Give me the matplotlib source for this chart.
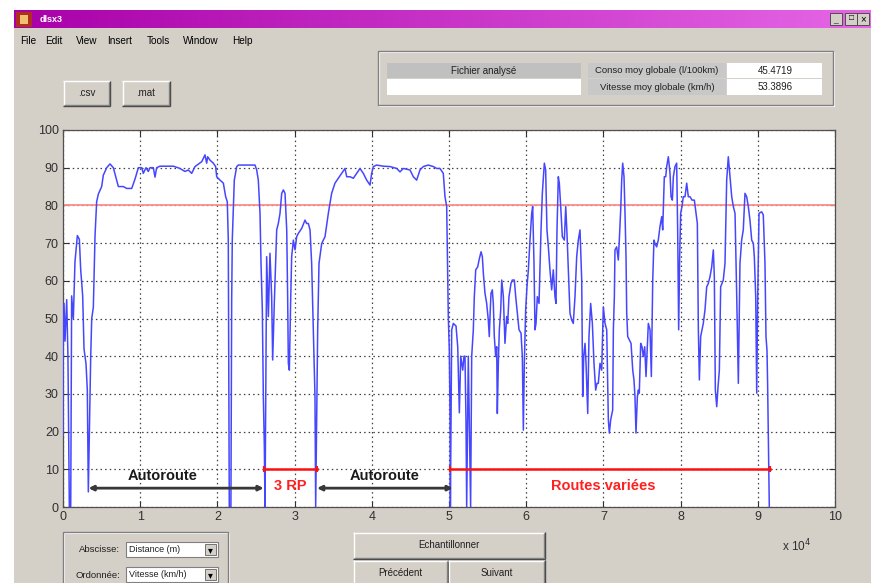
import matplotlib
matplotlib.use("Agg")
import numpy as np
import matplotlib.pyplot as plt
from matplotlib.patches import Rectangle
from matplotlib.lines import Line2D

plt.rcParams['font.family'] = ['Liberation Sans', 'DejaVu Sans']

# Speed recorded along the trip: distance (m) and speed (km/h)
distance_m = [
    0, 30, 130, 260, 480, 640, 820, 1000, 1120, 1340, 1550, 1860, 2120, 2290,
    2550, 2720, 2980, 3150, 3280, 3590, 3720, 3930, 4150, 4360, 4580, 5010,
    5220, 5660, 6090, 6520, 7170, 7810, 8250, 8900, 9330, 9760, 10190, 10400,
    10750, 11050, 11270, 11700, 11920, 12130, 12560, 14300, 15150, 15800,
    16230, 16670, 17100, 17970, 18390, 18610, 18740, 19040, 19470, 19770,
    19910, 20340, 20770, 21070, 21280, 21410, 21540, 21750, 21850, 21930,
    22190, 22500, 22710, 24870, 25090, 25300, 25520, 25650, 25820, 25950,
    26080, 26170, 26380, 26600, 26810, 27030, 27160, 27370, 27680, 27890,
    28110, 28330, 28540, 28760, 28980, 29100, 29190, 29320, 29500, 29620,
    29840, 30050, 30270, 30490, 30920, 31350, 31560, 31780, 32000, 32210,
    32430, 32560, 32640, 32730, 32990, 33160, 33510, 33940, 34370, 34800,
    35230, 35660, 36100, 36530, 36750, 37180, 37610, 38040, 38470, 38900,
    39340, 39770, 39980, 40200, 40630, 41490, 42360, 43220, 43650, 44080,
    44950, 45380, 45810, 46240, 46670, 47320, 47970, 48400, 48830, 49260,
    49480, 49700, 49780, 49910, 50040, 50130, 50180, 50350, 50560, 50910,
    51130, 51340, 51520, 51780, 51940, 52070, 52200, 52290, 52500, 52800,
    52940, 53150, 53280, 53460, 53720, 53890, 54150, 54320, 54450, 54660,
    54880, 55090, 55220, 55310, 55440, 55610, 55740, 55870, 56050, 56180,
    56260, 56390, 56520, 56700, 56830, 57040, 57250, 57470, 57600, 57770,
    58030, 58200, 58460, 58640, 58900, 59070, 59330, 59500, 59630, 59760,
    59930, 60100, 60280, 60490, 60710, 60840, 61010, 61140, 61270, 61440,
    61660, 61920, 62090, 62350, 62520, 62690, 62870, 63080, 63300, 63510,
    63730, 63860, 63990, 64160, 64290, 64470, 64680, 64940, 65120, 65280,
    65460, 65670, 65890, 66100, 66320, 66540, 66750, 66970, 67190, 67320,
    67450, 67620, 67750, 67970, 68130, 68350, 68570, 68780, 69000, 69170,
    69340, 69560, 69780, 69990, 70210, 70430, 70640, 70770, 70940, 71200,
    71290, 71420, 71500, 71720, 71930, 72060, 72240, 72370, 72500, 72670,
    72800, 72930, 73020, 73150, 73360, 73580, 73800, 73960, 74090, 74220,
    74400, 74520, 74650, 74830, 75000, 75170, 75350, 75520, 75690, 75820,
    76040, 76210, 76390, 76550, 76680, 76900, 77110, 77330, 77550, 77680,
    77890, 78070, 78200, 78410, 78630, 78760, 78930, 79060, 79270, 79490,
    79620, 79750, 79880, 80010, 80180, 80350, 80570, 80790, 81000, 81220,
    81480, 81780, 82000, 82170, 82300, 82430, 82600, 82770, 82940, 83160,
    83380, 83590, 83810, 84030, 84240, 84370, 84500, 84680, 84850, 85020,
    85190, 85360, 85530, 85750, 85970, 86180, 86400, 86620, 86830, 87050,
    87270, 87480, 87690, 87910, 88120, 88340, 88560, 88770, 88990, 89210,
    89420, 89550, 89730, 89860, 89990, 90160, 90500, 90710, 90930, 91060,
    91190, 91270, 91360, 91490,
]
speed_kmh = [
    19, 42, 54, 44, 55, 40, 0, 0, 56, 50, 65, 72, 71, 63,
    56, 42, 38, 31, 4, 40, 50, 53, 72, 81, 83, 85,
    88, 90, 91, 90, 85, 85, 84.5, 84.5, 87, 90, 90, 88.5,
    90, 89, 90, 90, 87.5, 90, 90.4, 90.4, 89.8, 89,
    89.4, 88.5, 90.3, 91.6, 93.4, 91.2, 92.9, 92, 91.2, 90.3,
    87.6, 86.7, 85.9, 82.3, 81, 71, 0, 0, 55, 71,
    86.7, 90.3, 90.7, 90.7, 89.4, 86.7, 77.9, 64.6, 52.3, 29.3,
    16, 0, 66.4, 50.5, 67.3, 55.8, 39, 54, 73.5, 75.2,
    77.9, 83.2, 84.1, 83.2, 73.5, 55.8, 38.1, 36.3, 55.8, 66.4,
    70.8, 68.2, 71.7, 72.6, 73.9, 76.1, 75.2, 75.2, 73.5, 64.6,
    47, 35.5, 29.3, 0, 47, 64.6, 69.9, 71.7, 77.9, 83.2,
    85.9, 87.2, 88.5, 89.8, 87.6, 87.6, 87.2, 88.5, 89.8, 88.5,
    86.7, 85.4, 88.5, 90.3, 90.7, 90.4, 90.3, 89.8, 88.9, 89.8,
    89.4, 87.6, 86.7, 89.4, 90.3, 90.7, 90.3, 89.8, 89.8, 88.5,
    82.3, 79.7, 69, 50.5, 41.6, 24.9, 0, 47, 48.7, 48,
    42.5, 25, 40, 36.3, 40, 40, 23, 0, 40, 0,
    40, 47, 55.8, 62.9, 63.7, 65.5, 67.7, 66.4, 62, 56.7,
    54, 49.6, 45.2, 50.5, 56.7, 57.6, 54, 45.2, 39.9, 42.5,
    24.8, 38.1, 47, 52.3, 60.2, 55.8, 43.4, 50.5, 48.7, 55.8,
    59.3, 60.2, 60.2, 55.8, 50.5, 47, 46.1, 39.9, 20.4, 38.1,
    52.3, 58.4, 62.9, 70.8, 77.9, 79.7, 64.6, 47, 48.7, 55.8,
    54, 73.5, 83.2, 91.2, 89.4, 73.5, 69, 62.9, 57.6, 62.9,
    55.8, 54, 73.5, 87.6, 85.9, 79.7, 71.7, 70.8, 79.7, 72.6,
    62.9, 51.4, 49.6, 48.7, 55.8, 66.4, 70.8, 73.5, 60.2, 29.3,
    39.9, 43.4, 38.1, 24.8, 45.2, 54, 48.7, 38.1, 31, 32.8,
    32.8, 38.1, 36.3, 53.1, 48.7, 47, 23.1, 19.6, 23.1, 25.7,
    47, 55.8, 68.2, 69, 65.5, 70.8, 78.8, 86.7, 91.2, 87.6,
    77.9, 66.4, 51.4, 45.2, 44.3, 43.4, 36.3, 33.7, 29.3, 19.6,
    29.3, 31, 30.2, 43.4, 42.5, 39.9, 42.5, 34.6, 42.5, 48.7,
    47, 34.6, 60.2, 70.8, 69.9, 69, 70.8, 74.4, 77, 73.5,
    87.6, 87.6, 90.3, 92.9, 88.5, 82.3, 81.4, 87.6, 90.3, 91.2,
    73.5, 47, 66.4, 77.9, 79.7, 82.3, 82.3, 85.9, 82.3, 82.3,
    81.4, 81.4, 77.9, 75.2, 47, 33.7, 45.2, 47, 48.7, 52.3,
    58.4, 59.3, 61.1, 63.7, 68.2, 61.1, 31, 26.6, 31.9, 36.3,
    58.4, 59.3, 60.2, 64.6, 86.7, 92.9, 87.6, 82.3, 79.7, 77.9,
    55.8, 32.8, 64.6, 70.8, 73.5, 83.2, 82.3, 79.7, 76, 70.8,
    69.9, 66.4, 55.8, 30.2, 55.8, 77.9, 78.3, 77.5, 64.6, 45.2,
    41.6, 32.8, 18.7, 0,
]

speed_limit_kmh = 80
x_tick_values = [0, 1, 2, 3, 4, 5, 6, 7, 8, 9, 10]
y_tick_values = [0, 10, 20, 30, 40, 50, 60, 70, 80, 90, 100]

# Road segments of the trip
segment_names = ['Autoroute', '3 RP', 'Autoroute', 'Routes variées']
segment_start_m = [3300, 26000, 32900, 50100]
segment_end_m = [26000, 32900, 50500, 91600]
segment_is_motorway = [True, False, True, False]

# Summary values shown in the panel
conso_moy = '45.4719'
vitesse_moy = '53.3896'

W, H = 871, 583
BG = '#d4d0c8'

fig = plt.figure(figsize=(W / 100, H / 100), dpi=100, facecolor=BG)


def box(x0, y0, x1, y1, fc, ec='none', lw=0.0, z=1):
    fig.add_artist(Rectangle((x0 / W, 1 - y1 / H), (x1 - x0) / W, (y1 - y0) / H,
                             transform=fig.transFigure, facecolor=fc,
                             edgecolor=ec, linewidth=lw, zorder=z))


def hline(x0, x1, y, color, lw=1.0, z=2):
    fig.add_artist(Line2D([x0 / W, x1 / W], [1 - y / H, 1 - y / H],
                          transform=fig.transFigure, color=color, lw=lw,
                          zorder=z, solid_capstyle='butt'))


def vline(x, y0, y1, color, lw=1.0, z=2):
    fig.add_artist(Line2D([x / W, x / W], [1 - y0 / H, 1 - y1 / H],
                          transform=fig.transFigure, color=color, lw=lw,
                          zorder=z, solid_capstyle='butt'))


def label(x, y, s, size=7.0, ha='center', color='#202020', **kw):
    fig.text(x / W, 1 - y / H, s, ha=ha, va='center', fontsize=size,
             color=color, zorder=5, **kw)


def button(x0, y0, x1, y1, text, size=7.0):
    box(x0, y0, x1, y1, BG)
    hline(x0, x1, y0 + 0.5, 'white')
    vline(x0 + 0.5, y0, y1, 'white')
    hline(x0, x1, y1 - 0.5, '#404040')
    vline(x1 - 0.5, y0, y1, '#404040')
    hline(x0 + 1, x1 - 1, y1 - 1.5, '#808080')
    vline(x1 - 1.5, y0 + 1, y1 - 1, '#808080')
    label((x0 + x1) / 2, (y0 + y1) / 2, text, size=size)


def etched(x0, y0, x1, y1):
    box(x0, y0, x1, y1, 'none', ec='#808080', lw=1.0, z=2)
    box(x0 + 1, y0 + 1, x1 + 1, y1 + 1, 'none', ec='white', lw=0.8, z=1.5)


# page margin and window background
box(0, 0, W, H, 'white', z=-10)
box(14, 10, W, H, BG, z=-9)

# title bar with gradient
tax = fig.add_axes([14 / W, 1 - 28 / H, (W - 14) / W, 18 / H])
grad = np.linspace(0, 1, 256)[None, :]
c0 = np.array([0.66, 0.0, 0.66])
c1 = np.array([0.90, 0.40, 0.90])
tax.imshow(c0 + (c1 - c0) * grad[..., None], aspect='auto', extent=[0, 1, 0, 1])
tax.set_axis_off()
box(16, 12, 32, 27, '#b03020', z=3)
box(20, 15, 28, 24, '#f0c070', z=3)
label(40, 19, 'dlsx3', size=6.5, ha='left', color='white', fontweight='bold')
for i, x in enumerate([830, 845, 857]):
    box(x, 13, x + 12, 25, BG, ec='#404040', lw=0.6, z=3)
label(835, 21, '_', size=6, color='black')
label(851, 19, '□', size=6, color='black')
label(863, 19, '×', size=7, color='black')

# menu bar
for name, x in [('File', 20), ('Edit', 45), ('View', 76), ('Insert', 107),
                ('Tools', 147), ('Window', 183), ('Help', 232)]:
    label(x, 41, name, size=7.2, ha='left', color='black')

# export buttons
button(63, 81, 110, 106, '.csv')
button(122, 81, 170, 106, '.mat')

# results panel
etched(378, 51, 833, 105)
box(387, 63, 581, 78, '#c0c0c0', z=2)
label(484, 70.5, 'Fichier analysé', size=7)
box(387, 79, 581, 95, 'white', z=2)
box(588, 63, 726, 78, '#c8c8c8', z=2)
box(588, 79, 726, 95, '#c8c8c8', z=2)
label(657, 70.5, 'Conso moy globale (l/100km)', size=6.8)
label(657, 87, 'Vitesse moy globale (km/h)', size=6.8)
box(727, 63, 822, 78, 'white', z=2)
box(727, 79, 822, 95, 'white', z=2)
label(775, 70.5, conso_moy, size=7)
label(775, 87, vitesse_moy, size=7)

# axis selection panel
etched(63, 532, 228, 600)
label(120, 549, 'Abscisse:', size=6.8, ha='right')
label(120, 575, 'Ordonnée:', size=6.8, ha='right')
for y0, txt in [(542, 'Distance (m)'), (567, 'Vitesse (km/h)')]:
    box(126, y0, 218, y0 + 15, 'white', ec='#808080', lw=0.8, z=2)
    label(129, y0 + 7.5, txt, size=6.5, ha='left')
    box(205, y0 + 2, 216, y0 + 13, BG, ec='#606060', lw=0.6, z=3)
    label(210.5, y0 + 8, '▾', size=7, color='black')

# navigation buttons
button(353, 532, 545, 559, 'Echantillonner')
button(353, 560, 448, 586, 'Précédent')
button(448, 560, 545, 586, 'Suivant')

# speed plot
ax = fig.add_axes([63 / W, 1 - 507 / H, (835 - 63) / W, (507 - 130) / H])
ax.set_facecolor('white')
ax.plot(distance_m, speed_kmh, color='#4646ff', lw=1.1, zorder=3)
ax.axhline(speed_limit_kmh, color='#ff8c8c', lw=1.3, zorder=2)

ax.set_xlim(0, 100000)
ax.set_ylim(0, 100)
ax.set_xticks([v * 10000 for v in x_tick_values])
ax.set_xticklabels([str(v) for v in x_tick_values])
ax.set_yticks(y_tick_values)
ax.set_yticklabels([str(v) for v in y_tick_values])
ax.tick_params(direction='in', length=4, width=0.8, colors='#303030',
               labelsize=9, pad=3, top=True, right=True)
ax.grid(True, linestyle=(0, (1.2, 2.5)), color='#404040', lw=0.9)
for sp in ax.spines.values():
    sp.set_color('#505050')
    sp.set_linewidth(0.9)

label_x = {0: 12900, 1: 29450, 2: 41600, 3: 70000}
for i, name in enumerate(segment_names):
    a, b = segment_start_m[i], segment_end_m[i]
    if segment_is_motorway[i]:
        ax.annotate('', xy=(a, 5), xytext=(b, 5),
                    arrowprops=dict(arrowstyle='<|-|>', color='#383838',
                                    lw=2.0, mutation_scale=7,
                                    shrinkA=0, shrinkB=0), zorder=4)
        ax.text(label_x[i], 8.2, name, ha='center', va='center', fontsize=10.5,
                fontweight='bold', color='#1a1a1a', zorder=5)
    else:
        ax.plot([a, b], [10, 10], color='#ff1010', lw=1.8, zorder=4,
                marker='|', markersize=5, markeredgewidth=1.5)
        ax.text(label_x[i], 5.6, name, ha='center', va='center', fontsize=10.5,
                fontweight='bold', color='#ff2020', zorder=5)

label(797, 546, r'x 10$^{4}$', size=8.5, color='#303030')

fig.savefig('out.png', dpi=100, facecolor=BG)
